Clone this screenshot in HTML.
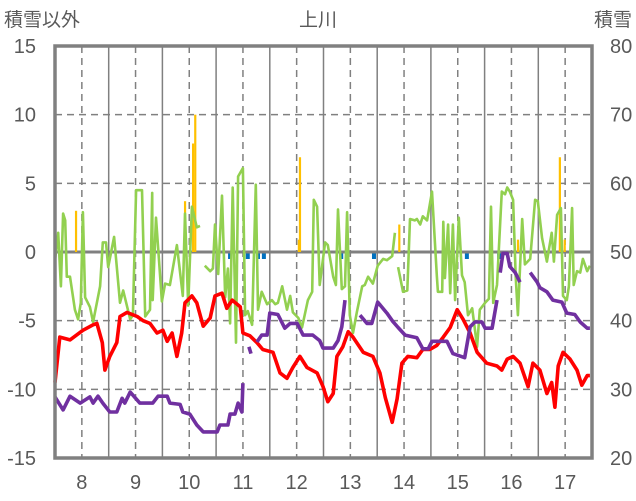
<!DOCTYPE html>
<html><head><meta charset="utf-8"><style>
html,body{margin:0;padding:0;background:#fff;}
svg{display:block;font-family:"Liberation Sans","Noto Sans CJK JP",sans-serif;}
</style></head><body>
<svg id="chart" width="636" height="501" viewBox="0 0 636 501">
<g id="grid"></g>
<g id="marks"></g>
<g id="axes"></g>
<text x="4" y="26" font-size="19" fill="#595959">積雪以外</text>
<text x="318" y="26" font-size="19" fill="#595959" text-anchor="middle">上川</text>
<text x="632" y="26" font-size="19" fill="#595959" text-anchor="end">積雪</text>
</svg>
<script>
const leftTicks=[15,10,5,0,-5,-10,-15];
const rightTicks=[80,70,60,50,40,30,20];
const dayLabels=[8,9,10,11,12,13,14,15,16,17];
const redT=[7.5,7.59,7.78,8.02,8.21,8.28,8.38,8.43,8.52,8.65,8.71,8.84,9.03,9.14,9.27,9.40,9.51,9.59,9.68,9.77,9.86,9.92,10.05,10.14,10.26,10.39,10.48,10.61,10.70,10.80,10.95,11.00,11.13,11.26,11.37,11.56,11.69,11.82,11.93,12.06,12.19,12.38,12.49,12.58,12.68,12.75,12.86,12.96,13.05,13.24,13.42,13.55,13.65,13.78,13.87,13.96,14.07,14.24,14.35,14.48,14.61,14.73,14.86,14.99,15.10,15.23,15.36,15.54,15.73,15.82,15.92,16.03,16.16,16.31,16.40,16.53,16.66,16.75,16.81,16.87,16.96,17.09,17.22,17.31,17.41,17.46];
const redV=[-9.5,-6.2,-6.4,-5.7,-5.3,-5.2,-6.6,-8.6,-7.6,-6.6,-4.7,-4.4,-4.7,-5.0,-5.2,-5.9,-5.7,-6.5,-5.9,-7.6,-5.9,-3.7,-3.2,-3.7,-5.4,-4.8,-3.2,-3.0,-4.1,-3.5,-4.0,-5.9,-6.1,-6.6,-7.1,-7.3,-8.8,-9.2,-8.4,-7.6,-8.4,-8.8,-9.8,-10.9,-10.3,-7.6,-6.9,-5.8,-6.2,-7.3,-7.6,-8.8,-10.6,-12.4,-10.7,-8.1,-7.6,-7.7,-7.1,-7.1,-6.8,-6.2,-5.5,-4.2,-4.9,-5.9,-7.3,-8.1,-8.3,-8.6,-7.8,-7.6,-8.1,-9.8,-8.1,-8.6,-10.3,-9.5,-11.3,-8.3,-7.3,-7.8,-8.6,-9.7,-9.0,-9.0];
const greenT=[7.50,7.56,7.61,7.65,7.69,7.72,7.78,7.87,7.93,7.98,8.02,8.06,8.15,8.21,8.34,8.39,8.45,8.49,8.60,8.71,8.77,8.90,8.95,9.01,9.12,9.18,9.27,9.31,9.32,9.38,9.49,9.55,9.64,9.77,9.88,9.92,9.98,10.05,10.14,10.20,10.24,10.29,10.39,10.44,10.48,10.54,10.61,10.67,10.72,10.76,10.81,10.87,10.91,11.00,11.04,11.09,11.17,11.24,11.28,11.35,11.45,11.54,11.60,11.65,11.73,11.82,11.88,11.93,12.03,12.10,12.21,12.29,12.32,12.38,12.43,12.53,12.58,12.68,12.73,12.77,12.84,12.90,12.94,12.99,13.05,13.12,13.22,13.27,13.33,13.42,13.51,13.61,13.68,13.78,13.83,13.86,13.89,13.98,14.06,14.11,14.20,14.24,14.30,14.35,14.43,14.52,14.61,14.63,14.71,14.73,14.76,14.82,14.86,14.91,14.95,15.02,15.08,15.13,15.19,15.27,15.36,15.41,15.51,15.58,15.62,15.66,15.73,15.82,15.88,15.92,15.97,16.03,16.08,16.12,16.20,16.25,16.35,16.44,16.49,16.57,16.66,16.75,16.79,16.85,16.92,16.96,17.03,17.07,17.13,17.16,17.22,17.28,17.33,17.41,17.46];
const greenV=[-0.6,1.4,-2.5,2.8,2.3,-1.8,-1.8,-4.2,-4.9,-3.7,2.9,-3.3,-4.0,-5.1,-2.5,0.7,0.7,-1.1,1.1,-3.7,-2.8,-4.9,-4.6,4.5,4.5,-4.7,-4.2,4.3,-3.5,2.5,-3.6,-2.3,-2.4,0.5,-3.2,2.8,-3.9,3.3,1.8,1.9,null,-1.0,-1.4,-1.2,2.0,-1.6,4.1,-3.3,-1.2,-5.2,4.7,-6.6,5.5,6.1,-4.6,-4.3,-5.3,4.9,-4.2,-2.9,-3.8,-3.5,-3.8,-3.7,-2.5,-4.2,-3.2,-4.4,-4.8,-5.5,-3.5,-2.9,3.8,3.3,-2.4,0.7,0.5,-1.8,-2.4,3.1,-2.7,-2.5,2.9,-4.6,-5.9,-4.4,-2.5,-2.4,-1.8,-2.3,-1.0,-0.5,-0.6,-0.3,1.4,null,-1.1,-2.9,-2.8,2.4,2.3,2.4,2.0,2.6,2.3,4.4,-1.7,-2.9,-2.9,2.2,-1.9,2.0,-3.0,2.0,-3.5,2.5,-1.7,-2.2,-4.6,-4.1,-6.9,-4.2,-3.7,-3.4,3.3,-3.7,-2.4,4.4,4.2,4.7,4.4,3.8,-1.8,-4.6,2.4,-0.9,-0.5,3.8,3.7,1.0,-0.7,1.4,-0.7,2.7,3.2,-3.2,-3.5,-2.5,3.2,-2.4,-1.4,-1.5,-0.5,-1.4,-1.0];
const snowT=[7.5,7.65,7.78,7.97,8.15,8.21,8.30,8.39,8.52,8.65,8.75,8.80,8.90,9.08,9.32,9.42,9.59,9.64,9.83,9.88,10.01,10.14,10.26,10.52,10.57,10.72,10.76,10.85,10.91,10.98,11.00,11.05,11.11,11.15,11.20,11.26,11.35,11.45,11.50,11.65,11.78,11.88,12.01,12.12,12.30,12.43,12.49,12.68,12.77,12.84,12.90,13.0,13.18,13.31,13.40,13.51,13.68,13.79,13.89,14.02,14.24,14.35,14.45,14.52,14.80,14.91,15.13,15.23,15.32,15.45,15.51,15.64,15.73,15.76,15.79,15.84,15.92,15.97,16.07,16.16,16.25,16.35,16.48,16.53,16.66,16.77,16.94,17.03,17.18,17.28,17.41,17.46];
const snowV=[28.9,27.0,29.0,28.0,28.9,28.0,29.0,28.0,26.7,26.7,28.7,28.0,29.6,28.0,28.0,29.0,29.0,28.0,27.8,26.7,26.4,24.8,23.8,23.8,24.8,24.8,26.4,26.4,28.0,26.7,30.9,null,36.2,35.2,null,36.9,37.9,37.9,41.1,40.9,38.9,39.6,39.6,37.9,37.9,37.1,36.0,36.0,37.1,39.1,43.0,null,40.8,39.6,39.6,42.7,41.1,39.9,39.0,37.9,37.5,35.9,35.9,37.0,37.0,35.2,34.6,39.1,39.8,39.8,38.9,38.9,43.0,null,47.0,49.8,49.8,47.9,47.0,45.6,null,47.0,45.6,44.8,44.2,43.0,42.7,41.1,40.9,39.8,38.9,38.9];
const posBarT=[7.89,9.92,10.07,10.11,12.04,12.06,13.91,16.12,16.90,16.99];
const posBarV=[3.0,3.7,7.9,10.0,0.9,6.9,2.0,0.9,6.9,0.9];
const negBarT=[10.76,11.09,11.28,11.39,12.83,13.44,15.17,15.77];
const negBarV=[-0.4,-0.4,-0.4,-0.4,-0.4,-0.4,-0.4,-0.4];

const NS='http://www.w3.org/2000/svg';
const X0=55,X1=592,Y0=46,Y1=458;
const xs=t=>X0+(t-7.5)/10*(X1-X0);
const yL=v=>Y0+(15-v)/30*(Y1-Y0);
const yR=v=>Y0+(80-v)/60*(Y1-Y0);
function mk(tag,attrs,parent){const e=document.createElementNS(NS,tag);for(const k in attrs)e.setAttribute(k,attrs[k]);parent.appendChild(e);return e;}
const grid=document.getElementById('grid'),marks=document.getElementById('marks'),axes=document.getElementById('axes');
const G='#808080';
leftTicks.forEach(v=>{
  if(v===15||v===-15||v===0)return;
  const l=mk('line',{x1:X0,x2:X1,y1:yL(v),y2:yL(v),stroke:G,'stroke-width':1.5,'stroke-dasharray':'7,5'},grid);
  
  
});
for(let d=8;d<=17;d++){
  const l=mk('line',{x1:xs(d),x2:xs(d),y1:Y0,y2:Y1,stroke:G,'stroke-width':1.5,'stroke-dasharray':'7,5'},grid);
  
  
  if(d<17){
    const b=mk('line',{x1:xs(d+0.5),x2:xs(d+0.5),y1:Y0,y2:Y1,stroke:G,'stroke-width':1.5},grid);
    
    
  }
}
const zl=mk('line',{x1:X0,x2:X1,y1:yL(0),y2:yL(0),stroke:G,'stroke-width':3},grid);



posBarT.forEach((t,i)=>{
  const r=mk('rect',{x:xs(t)-1,y:yL(posBarV[i]),width:2.2,height:yL(0)-yL(posBarV[i]),fill:'#FFC000'},marks);
  
  
});
negBarT.forEach((t,i)=>{
  const r=mk('rect',{x:xs(t)-2,y:yL(0)+1.5,width:4,height:yL(negBarV[i])-yL(0),fill:'#0070C0'},marks);
  
  
});
function pathD(T,V,ys){let d='',pen=false;T.forEach((t,i)=>{const v=V[i];if(v===null){pen=false;return;}d+=(pen?'L':'M')+xs(t).toFixed(1)+','+ys(v).toFixed(1);pen=true;});return d;}
const gp=mk('path',{d:pathD(greenT,greenV,yL),fill:'none',stroke:'#92D050','stroke-width':2.6,'stroke-linejoin':'round'},marks);


const rp=mk('path',{d:pathD(redT,redV,yL),fill:'none',stroke:'#FF0000','stroke-width':3.6,'stroke-linejoin':'round'},marks);


const pp=mk('path',{d:pathD(snowT,snowV,yR),fill:'none',stroke:'#7030A0','stroke-width':3.6,'stroke-linejoin':'round'},marks);



const bd=mk('rect',{x:X0,y:Y0,width:X1-X0,height:Y1-Y0,fill:'none',stroke:G,'stroke-width':3.5},axes);


leftTicks.forEach(v=>{
  const t=mk('text',{x:36,y:yL(v)+7,'font-size':20,fill:'#595959','text-anchor':'end'},axes);
  t.textContent=v;
  
  
});
rightTicks.forEach(v=>{
  const t=mk('text',{x:610,y:yR(v)+7,'font-size':20,fill:'#595959'},axes);
  t.textContent=v;
  
  
});
dayLabels.forEach(d=>{
  const t=mk('text',{x:xs(d),y:489,'font-size':20,fill:'#595959','text-anchor':'middle'},axes);
  t.textContent=d;
  
  
});
</script>
</body></html>
